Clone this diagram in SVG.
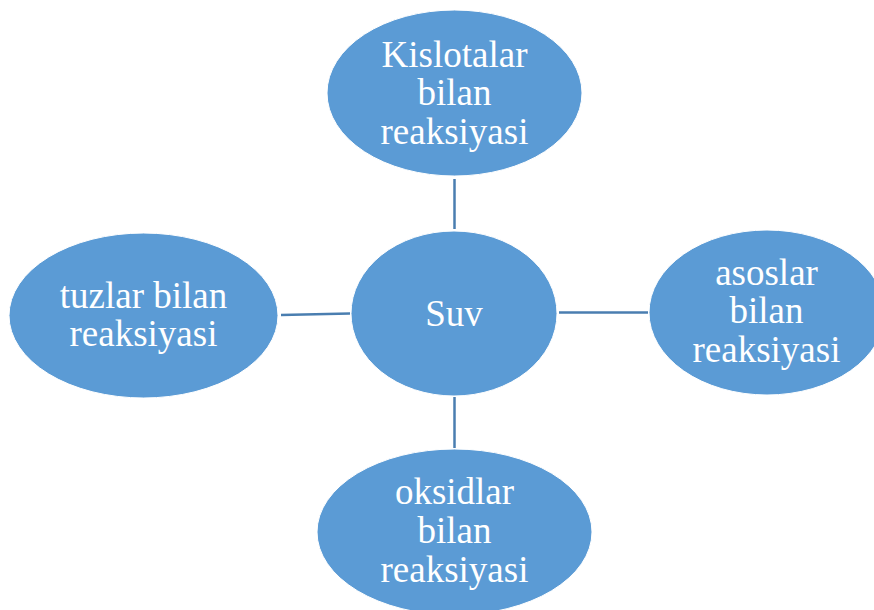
<svg xmlns="http://www.w3.org/2000/svg" width="874" height="610" viewBox="0 0 874 610">
<style>
.node{fill:#5B9BD5;stroke:#ffffff;stroke-width:1}
.lbl{font-family:"Liberation Serif","Times New Roman",serif;font-size:37px;fill:#ffffff;text-anchor:middle}
.conn{stroke:#4A7EB0;stroke-width:2.5;fill:none}
</style>
<rect width="874" height="610" fill="#ffffff"/>
<g id="connectors">
<line class="conn" x1="454.5" y1="179" x2="454.5" y2="229"/>
<line class="conn" x1="281" y1="315" x2="350" y2="313.5"/>
<line class="conn" x1="559" y1="312.5" x2="648" y2="312.5"/>
<line class="conn" x1="454.5" y1="397" x2="454.5" y2="448"/>
</g>
<g id="top">
<ellipse class="node" cx="454.5" cy="93" rx="127.5" ry="83"/>
<text class="lbl" x="454.5" y="67">Kislotalar</text>
<text class="lbl" x="454.5" y="105">bilan</text>
<text class="lbl" x="454.5" y="144">reaksiyasi</text>
</g>
<g id="center">
<ellipse class="node" cx="454" cy="313.5" rx="103" ry="82.5"/>
<text class="lbl" x="454" y="326">Suv</text>
</g>
<g id="left">
<ellipse class="node" cx="143.5" cy="315.5" rx="134.5" ry="82.5"/>
<text class="lbl" x="143.5" y="308">tuzlar bilan</text>
<text class="lbl" x="143.5" y="346">reaksiyasi</text>
</g>
<g id="right">
<ellipse class="node" cx="767" cy="312.5" rx="118" ry="82.5"/>
<text class="lbl" x="766.5" y="285">asoslar</text>
<text class="lbl" x="766.5" y="323">bilan</text>
<text class="lbl" x="766.5" y="362">reaksiyasi</text>
</g>
<g id="bottom">
<ellipse class="node" cx="454.5" cy="532" rx="137.5" ry="83"/>
<text class="lbl" x="454.5" y="504">oksidlar</text>
<text class="lbl" x="454.5" y="543">bilan</text>
<text class="lbl" x="454.5" y="582">reaksiyasi</text>
</g>
</svg>
